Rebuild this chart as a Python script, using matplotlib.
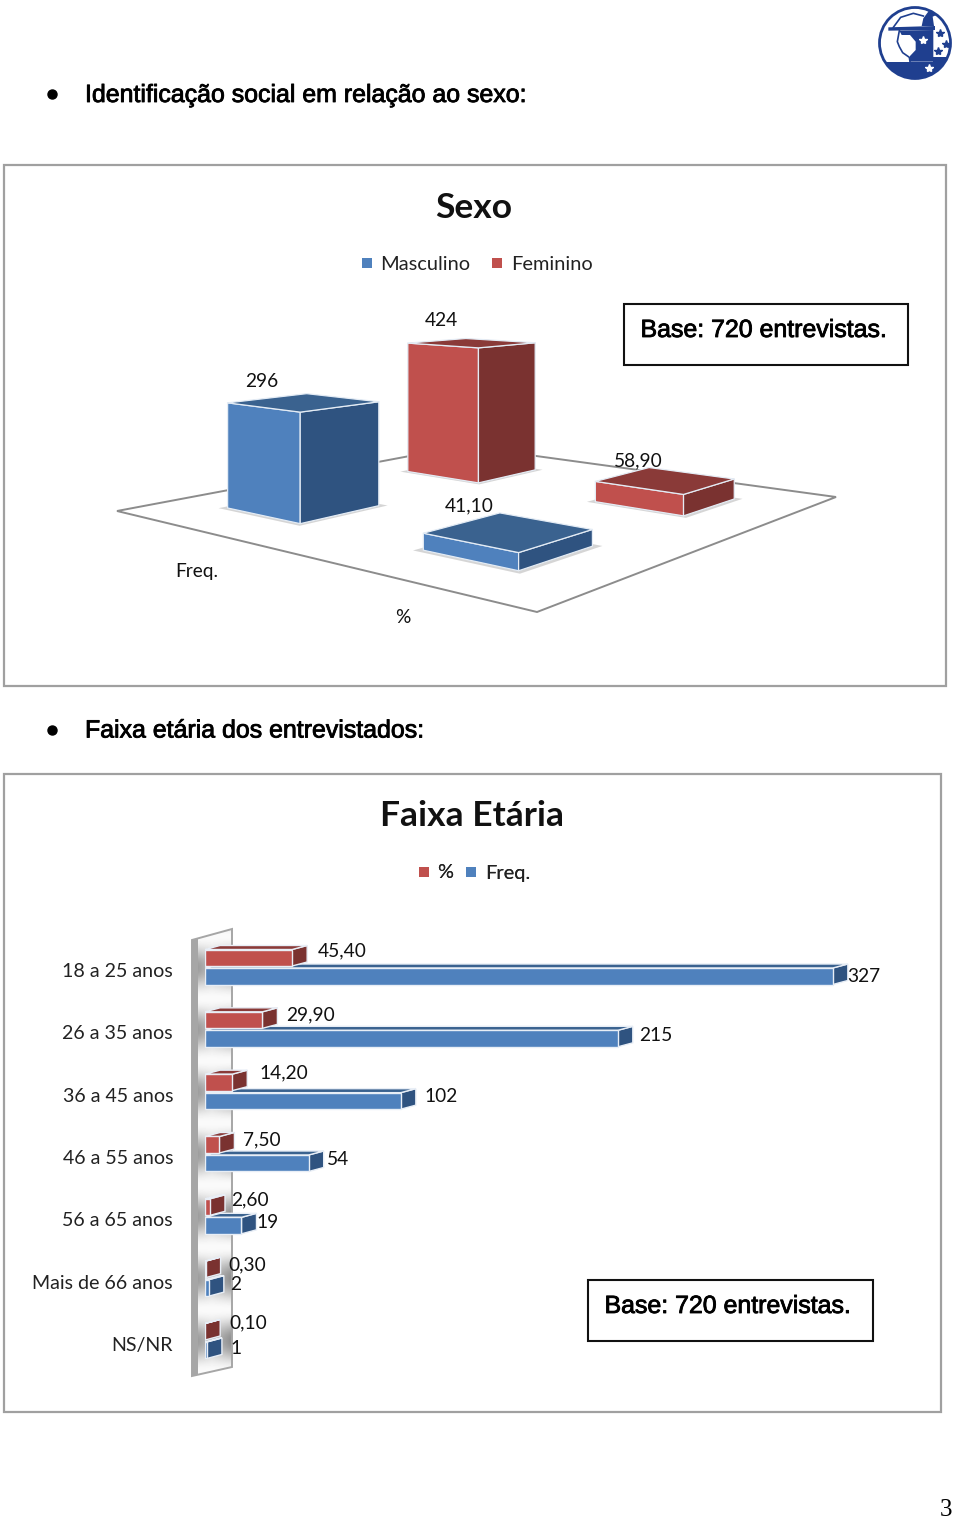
import numpy as np
import matplotlib
matplotlib.use("Agg")
import matplotlib.pyplot as plt
from matplotlib.lines import Line2D
from matplotlib.patches import Polygon, Rectangle, Circle
import matplotlib.patheffects as pe

plt.rcParams['font.family'] = ['Lato', 'DejaVu Sans']

# chart 1 data
sexo_series = ["Masculino", "Feminino"]
sexo_cats = ["Freq.", "%"]
masculino = [296, 41.10]
feminino = [424, 58.90]
masculino_txt = ["296", "41,10"]
feminino_txt = ["424", "58,90"]

# chart 2 data
faixas = ["18 a 25 anos", "26 a 35 anos", "36 a 45 anos", "46 a 55 anos",
          "56 a 65 anos", "Mais de 66 anos", "NS/NR"]
pct = [45.40, 29.90, 14.20, 7.50, 2.60, 0.30, 0.10]
freq = [327, 215, 102, 54, 19, 2, 1]
pct_txt = ["45,40", "29,90", "14,20", "7,50", "2,60", "0,30", "0,10"]
freq_txt = ["327", "215", "102", "54", "19", "2", "1"]

# label nudges in pixels (from the end of each bar)
pct_off = [(26, 16), (24, 14), (27, 19), (24, 14), (21, 16), (23, 14), (24, 18)]
freq_off = [(14, -10), (21, -6), (24, -5), (18, -6), (15, -6), (21, -6), (24, -8)]

BLUE = ("#4F81BD", "#2F5380", "#3A628F")
RED = ("#C0504D", "#7A3230", "#8A3A38")
W, H = 960, 1522

fig = plt.figure(figsize=(W / 100, H / 100), dpi=100)
page = fig.add_axes([0, 0, 1, 1])
page.set_xlim(0, W)
page.set_ylim(H, 0)
page.axis("off")


def heading(x, y, s, size=24.9, zorder=3):
    t = page.text(x, y, s, family="Liberation Sans", fontsize=size * 0.72, va="center", color="black", zorder=zorder)
    t.set_path_effects([pe.withStroke(linewidth=0.6, foreground="black")])


def base_box(x0, y0, x1, y1):
    page.add_patch(Rectangle((x0, y0), x1 - x0, y1 - y0, fc="white", ec="#111111", lw=1.5, zorder=6))
    heading(x0 + 16.5, y0 + 26, "Base: 720 entrevistas.", 24.9, zorder=7)


# page furniture
for yb, yt, s in [(94, 95, "Identificação social em relação ao sexo:"), (730, 730.5, "Faixa etária dos entrevistados:")]:
    page.plot([52], [yb], "o", color="black", ms=6.5)
    heading(85, yt, s)
page.add_patch(Rectangle((3.5, 165), 942, 521, fc="white", ec="#A0A0A0", lw=1.6))
page.add_patch(Rectangle((3.5, 773.5), 937, 638.5, fc="white", ec="#A0A0A0", lw=1.6))
page.text(946, 1510, "3", family="Liberation Serif", fontsize=18, ha="center", va="center")

# logo
NAVY = "#1F3F8F"
def lg(pts):
    return [(860 + a / 3, b / 3) for a, b in pts]
page.add_patch(Circle((915, 43), 35.5, fc="white", ec=NAVY, lw=2, zorder=3))
for pts in [[(118, 92), (220, 90), (220, 185), (150, 185), (150, 168), (167, 150), (167, 125), (150, 105), (125, 105)],
            [(50, 185), (220, 185), (220, 172), (270, 172), (270, 240), (50, 240)],
            [(185, 78), (190, 55), (210, 28), (240, 12), (252, 16), (228, 30), (240, 40), (218, 50), (222, 78)],
            [(85, 82), (225, 78), (225, 90), (85, 92)]]:
    p = Polygon(lg(pts), fc=NAVY, ec="none", zorder=4)
    page.add_patch(p)
    p.set_clip_path(Circle((915, 43), 35.5, transform=page.transData))
# helmet dome and face outline
page.plot(*zip(*lg([(100, 82), (122, 52), (160, 40), (190, 48)])), color=NAVY, lw=1.2, zorder=4)
page.plot(*zip(*lg([(118, 92), (112, 125), (118, 140), (128, 158), (148, 172), (150, 185)])), color=NAVY, lw=1.2, zorder=4)
page.plot(*zip(*lg([(188, 120), (206, 205)])), "*", color="white", ms=6, zorder=5)
page.plot(*zip(*lg([(240, 100), (257, 133), (235, 153)])), "*", color=NAVY, ms=6, zorder=5)


# chart 1: floor seen in perspective, u = category, v = series
L, F, R, B = (117, 511), (537, 612), (836, 497), (463, 446)
dx1, dx2, sx = F[0] - R[0], B[0] - R[0], L[0] - F[0] + R[0] - B[0]
dy1, dy2, sy = F[1] - R[1], B[1] - R[1], L[1] - F[1] + R[1] - B[1]
det = dx1 * dy2 - dx2 * dy1
g = (sx * dy2 - dx2 * sy) / det
h = (dx1 * sy - sx * dy1) / det
Z_SCALE = 0.36


def proj(u, v, z=0):
    w = g * u + h * v + 1
    x = ((F[0] - L[0] + g * F[0]) * u + (B[0] - L[0] + h * B[0]) * v + L[0]) / w
    y = ((F[1] - L[1] + g * F[1]) * u + (B[1] - L[1] + h * B[1]) * v + L[1]) / w
    return x, y - z * Z_SCALE / w


page.add_patch(Polygon([L, F, R, B], fc="white", ec="#8C8C8C", lw=1.4, zorder=1))


def prism(uc, uh, vc, z, cols):
    u0, u1, v0, v1 = uc - uh, uc + uh, vc - 0.1, vc + 0.1
    sh = [proj(u0 - 0.012, v0 - 0.012), proj(u1 + 0.012, v0 - 0.012), proj(u1 + 0.012, v1 + 0.012), proj(u0 - 0.012, v1 + 0.012)]
    page.add_patch(Polygon(sh, fc="#C4C4C4", ec="none", alpha=0.7, zorder=2))
    kw = dict(ec="#E4ECF5", lw=0.9, joinstyle="round", zorder=2)
    page.add_patch(Polygon([proj(u0, v0), proj(u1, v0), proj(u1, v0, z), proj(u0, v0, z)], fc=cols[0], **kw))
    page.add_patch(Polygon([proj(u1, v0), proj(u1, v1), proj(u1, v1, z), proj(u1, v0, z)], fc=cols[1], **kw))
    page.add_patch(Polygon([proj(u0, v0, z), proj(u1, v0, z), proj(u1, v1, z), proj(u0, v1, z)], fc=cols[2], **kw))


u_pos = [0.243, 0.75]
u_half = [0.104, 0.1]
v_pos = [0.25, 0.75]
for i in range(2):
    prism(u_pos[i], u_half[i], v_pos[1], feminino[i], RED)
for i in range(2):
    prism(u_pos[i], u_half[i], v_pos[0], masculino[i], BLUE)

LABEL = 19.2 * 0.72
LABEL2 = 20 * 0.72
for x, y, s in [(262, 381.5, masculino_txt[0]), (441, 320.5, feminino_txt[0]), (638, 461, feminino_txt[1]),
                (469, 505.5, masculino_txt[1]), (197, 571.5, sexo_cats[0]), (403, 617.5, sexo_cats[1])]:
    page.text(x, y, s, fontsize=LABEL, ha="center", va="center", color="#111111", zorder=7)

page.text(474, 208, "Sexo", fontsize=25.5, fontweight="bold", ha="center", va="center", color="#111111")
page.text(472, 816, "Faixa Etária", fontsize=25.5, fontweight="bold", ha="center", va="center", color="#111111")


def legend(labels, cols, xc, yc, gap):
    hs = [Line2D([], [], ls="none", marker="s", ms=7, mew=0, color=c, label=s) for s, c in zip(labels, cols)]
    leg = page.legend(handles=hs, loc="center", bbox_to_anchor=(xc, yc), bbox_transform=page.transData,
                      ncol=2, frameon=False, fontsize=LABEL2, columnspacing=gap, handletextpad=0.1,
                      handlelength=1.2, labelcolor="#222222", borderpad=0, borderaxespad=0)
    page.add_artist(leg)


legend(sexo_series, [BLUE[0], RED[0]], 473.5, 264, 0.7)
legend(["%", "Freq."], [RED[0], BLUE[0]], 471, 873, 0.28)
base_box(624, 304, 908, 365)
base_box(588, 1280, 873, 1341)

# chart 2 wall
wall = Polygon([(192, 940), (232, 929), (232, 1367), (192, 1376)], closed=True, fc="none", ec="none",
               transform=page.transData)
yy = np.linspace(925, 1380, 455)
xx = np.linspace(192, 232, 40)
band = 0.5 + 0.5 * np.cos(2 * np.pi * (yy - 967) / 62.33)
edge = np.abs(xx - 212) / 20
shade = 0.98 - (0.42 * band[:, None]) * (0.55 + 0.45 * edge[None, :])
im = page.imshow(shade, extent=(192, 232, 1380, 925), cmap="gray", vmin=0, vmax=1, aspect="auto", zorder=2)
page.set_xlim(0, W)
page.set_ylim(H, 0)
im.set_clip_path(wall)
page.add_patch(Polygon([(192, 940), (232, 929), (232, 1367), (192, 1376)], fc="none", ec="#A6A6A6", lw=1.4, zorder=3))
page.add_patch(Polygon([(192.5, 940), (198, 938.5), (198, 1374.5), (192.5, 1376)], fc="#A6A6A6", ec="none", zorder=3))

# chart 2 bars
PX = 1.92       # pixels per unit, freq and % share the axis
ROW = 62.33
top_px, bot_px, left_px, right_px = 905, 1405, 205, 905
ax = fig.add_axes([left_px / W, 1 - bot_px / H, (right_px - left_px) / W, (bot_px - top_px) / H])
ax.patch.set_alpha(0)
ax.set_xlim(0, (right_px - left_px) / PX)
ax.set_ylim((bot_px - 967) / ROW, (top_px - 967) / ROW)
for s in ax.spines.values():
    s.set_visible(False)
ax.set_xticks([])
rows = np.arange(len(faixas))
ax.set_yticks(rows + 0.05, faixas, fontsize=19.6 * 0.72, color="#222222")
ax.tick_params(axis="y", length=0, pad=23)
bh = 16.5 / ROW
ddx, ddy = 15 / PX, 4 / ROW
off = 1.0 / ROW


def bars(vals, ys, cols):
    for v, y in zip(vals, ys):
        kw = dict(ec="#E8EEF6", lw=1, zorder=3)
        ax.add_patch(Polygon([(v, y - bh / 2), (v + ddx, y - bh / 2 - ddy), (v + ddx, y + bh / 2 - ddy), (v, y + bh / 2)], fc=cols[1], **kw))
        ax.add_patch(Polygon([(0, y - bh / 2), (ddx, y - bh / 2 - ddy), (v + ddx, y - bh / 2 - ddy), (v, y - bh / 2)], fc=cols[2], **kw))
    ax.barh(ys, vals, height=bh, color=cols[0], edgecolor="#E8EEF6", linewidth=1, zorder=4)


bars(freq, rows + bh / 2 + off, BLUE)
bars(pct, rows - bh / 2 - off, RED)

for k in rows:
    ax.annotate(pct_txt[k], (pct[k], k), xytext=pct_off[k], textcoords="offset pixels", va="center",
                fontsize=LABEL, color="#111111", zorder=7)
    ax.annotate(freq_txt[k], (freq[k], k), xytext=freq_off[k], textcoords="offset pixels", va="center",
                fontsize=LABEL, color="#111111", zorder=7)

fig.savefig("out.png", dpi=100, facecolor="white")
